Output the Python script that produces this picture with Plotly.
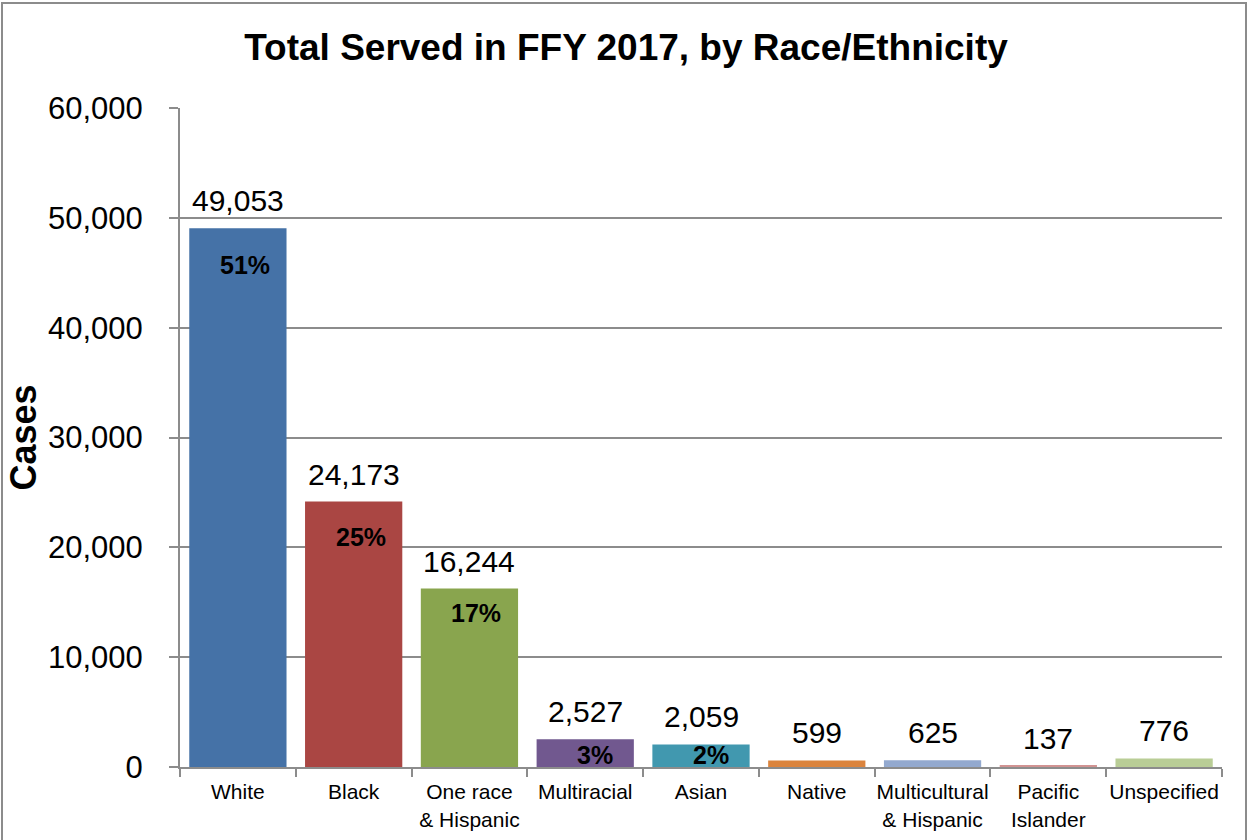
import plotly.graph_objects as go

categories = ["White", "Black", "One race<br>& Hispanic", "Multiracial", "Asian",
              "Native", "Multicultural<br>& Hispanic", "Pacific<br>Islander", "Unspecified"]
cases = [49053, 24173, 16244, 2527, 2059, 599, 625, 137, 776]
pct_labels = ["51%", "25%", "17%", "3%", "2%", None, None, None, None]
colors = ["#4572A7", "#AA4643", "#89A54E", "#71588F", "#4198AF",
          "#DB843D", "#93A9CF", "#D19392", "#B9CD96"]
y_ticks = [0, 10000, 20000, 30000, 40000, 50000, 60000]

W, H = 1248, 840
ML, MR, MT, MB = 180, 26, 108, 73
PH = H - MT - MB
PW = W - ML - MR
YMAX = 60000
px_per_unit = PH / YMAX

FONT = "Liberation Sans, Arial, sans-serif"

fig = go.Figure()
fig.add_trace(go.Bar(
    x=categories, y=cases, marker=dict(color=colors, line=dict(width=0)),
    hoverinfo="x+y", showlegend=False,
))

annotations = []
for i, (c, v) in enumerate(zip(categories, cases)):
    annotations.append(dict(
        x=c, y=v, xref="x", yref="y", text=f"{v:,}", showarrow=False,
        yanchor="bottom", yshift=9, font=dict(family=FONT, size=30, color="black"),
    ))
    p = pct_labels[i]
    if p:
        bar_px = v * px_per_unit
        if bar_px < 60:
            annotations.append(dict(
                x=c, y=0, xref="x", yref="y", text=f"<b>{p}</b>", showarrow=False,
                yanchor="middle", yshift=12, xshift=10,
                font=dict(family=FONT, size=25, color="black"),
            ))
        else:
            shift = min(37, 0.135 * bar_px)
            annotations.append(dict(
                x=c, y=v, xref="x", yref="y", text=f"<b>{p}</b>", showarrow=False,
                yanchor="middle", yshift=-shift, xshift=7,
                font=dict(family=FONT, size=25, color="black"),
            ))

fig.update_layout(
    width=W, height=H,
    margin=dict(l=ML, r=MR, t=MT, b=MB, pad=0, autoexpand=False),
    paper_bgcolor="white", plot_bgcolor="white",
    bargap=0.16,
    title=dict(text="<b>Total Served in FFY 2017, by Race/Ethnicity</b>",
               x=626 / W, xref="container", xanchor="center", y=1 - 47 / H, yanchor="middle",
               font=dict(family=FONT, size=37, color="black")),
    xaxis=dict(
        showline=True, linecolor="#8c8c8c", linewidth=2,
        ticks="outside", ticklen=8, tickcolor="#8c8c8c", tickwidth=2,
        tickson="boundaries", showgrid=False, tickangle=0, automargin=False,
        tickfont=dict(family=FONT, size=21, color="black"),
        ticklabelstandoff=5,
        fixedrange=True,
    ),
    yaxis=dict(
        range=[0, YMAX], tickvals=y_ticks, tickformat=",d",
        showline=True, linecolor="#8c8c8c", linewidth=2,
        ticks="outside", ticklen=9, tickcolor="#8c8c8c", tickwidth=2,
        showgrid=True, gridcolor="#8c8c8c", gridwidth=1.5,
        zeroline=False, automargin=False,
        tickfont=dict(family=FONT, size=31, color="black"),
        ticklabelstandoff=20,
        title=dict(text="<b>Cases</b>", font=dict(family=FONT, size=36, color="black"),
                   standoff=0),
        fixedrange=True,
    ),
    annotations=annotations,
    shapes=[dict(type="rect", xref="paper", yref="paper",
                 x0=(2 - ML) / PW, x1=(1246 - ML) / PW,
                 y0=-0.3, y1=(H - MB - 3) / PH,
                 line=dict(color="#8c8c8c", width=2), layer="below")],
)

fig.write_html("out.html")
